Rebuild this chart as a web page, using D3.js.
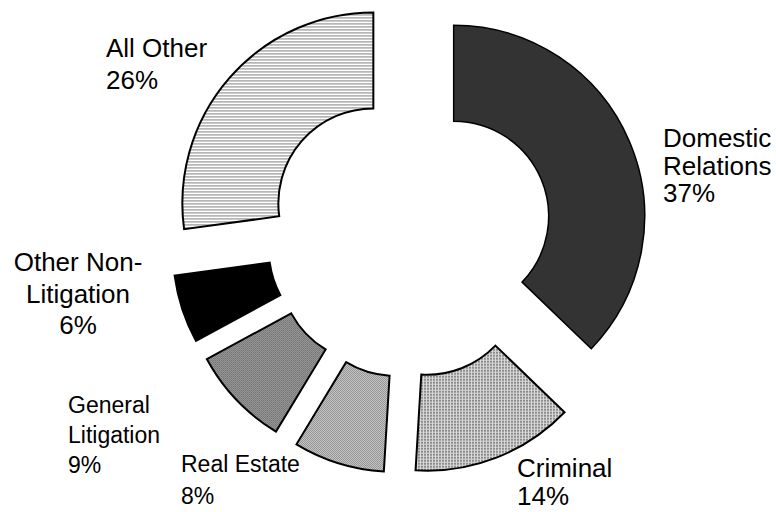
<!DOCTYPE html>
<html>
<head>
<meta charset="utf-8">
<script src="https://cdn.jsdelivr.net/npm/d3@7"></script>
<style>
  body { margin: 0; background: #fff; }
  text { font-family: "Liberation Sans", Arial, sans-serif; fill: #000; }
</style>
</head>
<body>
<div id="chart"></div>
<script>
// slices, clockwise from 12 o'clock
const categories = ["Domestic Relations", "Criminal", "Real Estate", "General Litigation", "Other Non-Litigation", "All Other"];
const shares = [37.2, 13.75, 7.7, 8.45, 5.75, 27.15];
const pctLabels = ["37%", "14%", "8%", "9%", "6%", "26%"];
const labelLines = [
    ["Domestic", "Relations", "37%"],
    ["Criminal", "14%"],
    ["Real Estate", "8%"],
    ["General", "Litigation", "9%"],
    ["Other Non-", "Litigation", "6%"],
    ["All Other", "26%"]
];

const width = 776;
const height = 512;
const cx = 409.5, cy = 235;
const outerR = 191, innerR = 95;
const explode = 48;

// label layout: x, first baseline, line step, anchor, size
const labelLayout = [
    {x: 663, y: 147, step: 27.5, anchor: "start", size: 26},
    {x: 517, y: 477, step: 28, anchor: "start", size: 26},
    {x: 181, y: 472, step: 32, anchor: "start", size: 23},
    {x: 68, y: 413, step: 30, anchor: "start", size: 23},
    {x: 78, y: 271, step: 31.5, anchor: "middle", size: 26},
    {x: 106, y: 57, step: 32, anchor: "start", size: 26}
];

const svg = d3.select("#chart").append("svg")
    .attr("width", width)
    .attr("height", height);

svg.append("rect").attr("width", width).attr("height", height).attr("fill", "#fff");

const defs = svg.append("defs");

function pattern(id, w, h, bg, cells) {
    const p = defs.append("pattern")
        .attr("id", id)
        .attr("patternUnits", "userSpaceOnUse")
        .attr("width", w)
        .attr("height", h);
    p.append("rect").attr("width", w).attr("height", h).attr("fill", bg);
    cells.forEach(c => {
        p.append("rect").attr("x", c[0]).attr("y", c[1])
            .attr("width", c[2]).attr("height", c[3]).attr("fill", c[4]);
    });
}

pattern("p-criminal", 3, 3, "#dadada", [[0, 0, 2, 2, "#8a8a8a"]]);
pattern("p-realestate", 2, 2, "#f4f4f4", [[0, 0, 1, 1, "#666"], [1, 1, 1, 1, "#666"]]);
pattern("p-general", 2, 2, "#a9a9a9", [[0, 0, 1, 1, "#5e5e5e"], [1, 1, 1, 1, "#6e6e6e"]]);
pattern("p-allother", 3, 3, "#fff", [[0, 0, 3, 1, "#808080"]]);

const fills = ["#333333", "url(#p-criminal)", "url(#p-realestate)", "url(#p-general)", "#000000", "url(#p-allother)"];
const strokeW = [1.5, 2, 2, 2, 2, 2];

const pie = d3.pie().sort(null).value(d => d);
const arcs = pie(shares);

const arc = d3.arc()
    .innerRadius(innerR)
    .outerRadius(outerR);

const g = svg.append("g").attr("transform", `translate(${cx},${cy})`);

g.selectAll("path")
    .data(arcs)
    .join("path")
        .attr("d", arc)
        .attr("transform", d => {
            const mid = (d.startAngle + d.endAngle) / 2;
            return `translate(${explode * Math.sin(mid)},${-explode * Math.cos(mid)})`;
        })
        .attr("fill", (d, i) => fills[i])
        .attr("stroke", "#000")
        .attr("stroke-width", (d, i) => strokeW[i])
        .attr("stroke-linejoin", "miter");

const labels = svg.append("g");

labelLines.forEach((lines, i) => {
    const lay = labelLayout[i];
    const t = labels.append("text")
        .attr("text-anchor", lay.anchor)
        .attr("font-size", lay.size + "px");
    lines.forEach((line, j) => {
        t.append("tspan")
            .attr("x", lay.x)
            .attr("y", lay.y + j * lay.step)
            .text(line);
    });
});
</script>
</body>
</html>
